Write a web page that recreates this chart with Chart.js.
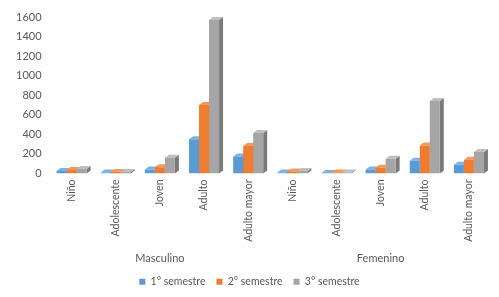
<!DOCTYPE html>
<html>
<head>
<meta charset="utf-8">
<script src="https://cdn.jsdelivr.net/npm/chart.js"></script>
<style>
  html, body { margin: 0; padding: 0; background: #fff; }
  #wrap { width: 499px; height: 297px; }
</style>
</head>
<body>
<div id="wrap"><canvas id="chart"></canvas></div>
<script>
// categories (two genders x five age groups)
const groups = ['Masculino', 'Femenino'];
const ageGroups = ['Niño', 'Adolescente', 'Joven', 'Adulto', 'Adulto mayor'];

// series values
const sem1 = [25, 10, 40, 350, 175, 10, 5, 40, 130, 90];
const sem2 = [35, 15, 65, 700, 280, 20, 10, 60, 285, 140];
const sem3 = [45, 15, 160, 1570, 415, 25, 10, 150, 740, 220];

const seriesNames = ['1° semestre', '2° semestre', '3° semestre'];
const yTicks = [0, 200, 400, 600, 800, 1000, 1200, 1400, 1600];

const colors = ['#5B9BD5', '#ED7D31', '#A5A5A5'];
const sideColors = ['#3F78AC', '#B95A1C', '#7A7A7A'];
const topColors = ['#7FB2E0', '#F29A5E', '#BFBFBF'];

const labels = [];
const groupLabels = [];
groups.forEach(g => {
    ageGroups.forEach((a, i) => {
        labels.push(a);
        groupLabels.push(i === 2 ? g : '');
    });
});

const FONT = 'Lato, "Open Sans", sans-serif';

// fake 3D: side and top faces drawn before the fronts
const depthPlugin = {
    id: 'depth',
    beforeDatasetsDraw(chart) {
        const ctx = chart.ctx;
        const dx = 4, dy = 3;
        ctx.save();
        chart.data.datasets.forEach((ds, di) => {
            const meta = chart.getDatasetMeta(di);
            meta.data.forEach(bar => {
                const { x, y, base, width } = bar.getProps(['x', 'y', 'base', 'width'], true);
                const l = x - width / 2, r = x + width / 2;
                ctx.fillStyle = sideColors[di];
                ctx.beginPath();
                ctx.moveTo(r, y);
                ctx.lineTo(r + dx, y - dy);
                ctx.lineTo(r + dx, base - dy);
                ctx.lineTo(r, base);
                ctx.closePath();
                ctx.fill();
                ctx.fillStyle = topColors[di];
                ctx.beginPath();
                ctx.moveTo(l, y);
                ctx.lineTo(l + dx, y - dy);
                ctx.lineTo(r + dx, y - dy);
                ctx.lineTo(r, y);
                ctx.closePath();
                ctx.fill();
            });
        });
        ctx.restore();
    }
};

new Chart(document.getElementById('chart'), {
    type: 'bar',
    data: {
        labels: labels,
        datasets: [sem1, sem2, sem3].map((d, i) => ({
            label: seriesNames[i],
            data: d,
            backgroundColor: colors[i],
            borderWidth: 0,
            categoryPercentage: 0.68,
            barPercentage: 1.0
        }))
    },
    options: {
        responsive: true,
        maintainAspectRatio: false,
        animation: false,
        layout: { padding: { left: 8, right: 8, top: 17, bottom: 0 } },
        scales: {
            y: {
                min: 0,
                max: 1600,
                afterBuildTicks(axis) { axis.ticks = yTicks.map(v => ({ value: v })); },
                grid: { display: false, drawTicks: false },
                border: { display: false },
                ticks: {
                    color: '#595959',
                    font: { family: FONT, size: 11 },
                    padding: 8,
                    callback: v => String(v)
                }
            },
            x: {
                afterFit(axis) { axis.height = 71; },
                grid: { display: false, drawTicks: false },
                border: { display: false },
                ticks: {
                    color: '#595959',
                    font: { family: FONT, size: 10.5 },
                    minRotation: 90,
                    maxRotation: 90,
                    autoSkip: false,
                    padding: 6
                }
            },
            x2: {
                type: 'category',
                labels: groupLabels,
                position: 'bottom',
                afterFit(axis) { axis.height = 21; },
                grid: { display: false, drawTicks: false },
                border: { display: false },
                ticks: {
                    color: '#595959',
                    font: { family: FONT, size: 11 },
                    minRotation: 0,
                    maxRotation: 0,
                    autoSkip: false,
                    padding: 7
                }
            }
        },
        plugins: {
            legend: {
                position: 'bottom',
                labels: {
                    color: '#595959',
                    font: { family: FONT, size: 10.5 },
                    boxWidth: 6,
                    boxHeight: 6,
                    padding: 11
                }
            },
            tooltip: { enabled: false }
        }
    },
    plugins: [depthPlugin]
});
</script>
</body>
</html>
